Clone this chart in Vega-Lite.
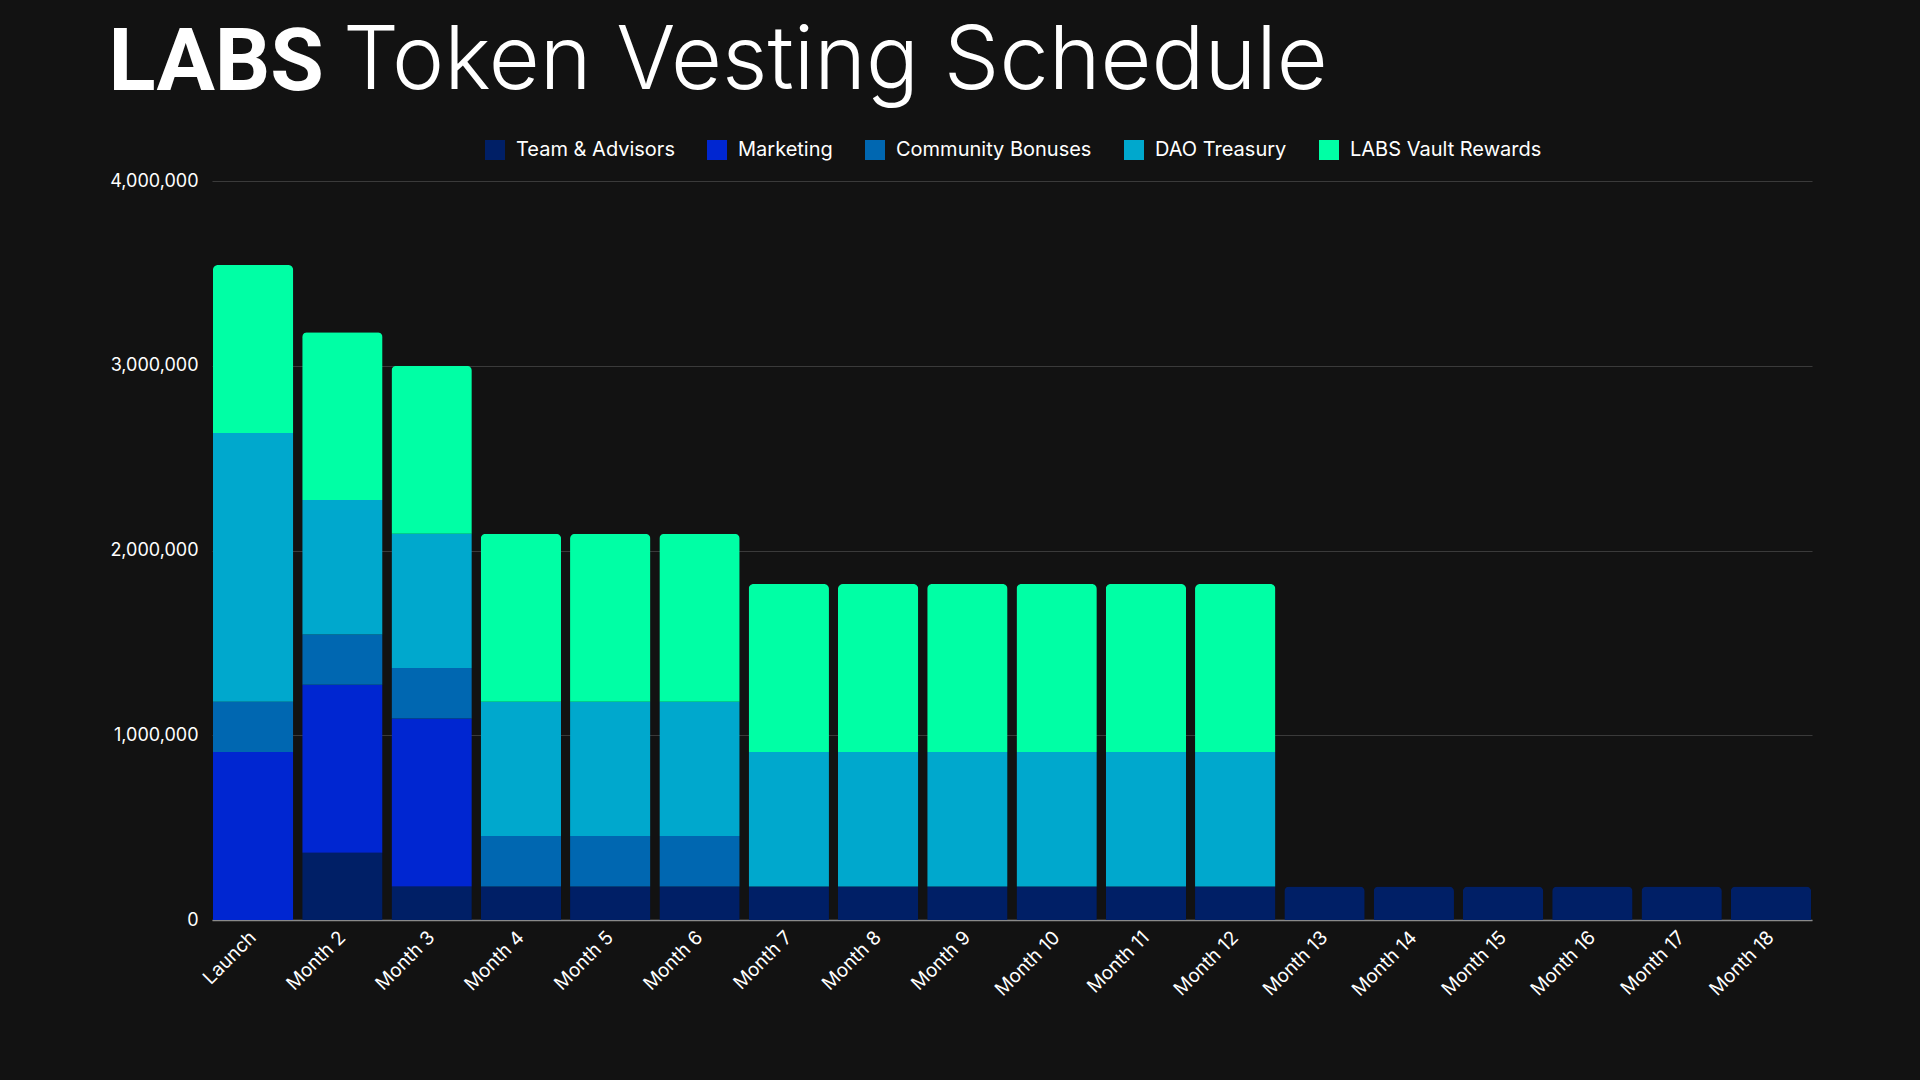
{
  "$schema": "https://vega.github.io/schema/vega-lite/v6.json",
  "width": 1600,
  "height": 739,
  "autosize": {"type": "none"},
  "padding": {"left": 212, "top": 181, "right": 108, "bottom": 160},
  "background": "#121212",
  "title": {
    "text": "Token Vesting Schedule",
    "anchor": "start",
    "frame": "group",
    "dx": 131,
    "fontSize": 88,
    "fontWeight": 300,
    "font": "Inter",
    "color": "#ffffff",
    "baseline": "alphabetic",
    "offset": -158
  },
  "data": {
    "values": [
      {"period": "Launch", "allocation": "Marketing", "k": 2, "tokens": 909091},
      {"period": "Launch", "allocation": "Community Bonuses", "k": 3, "tokens": 272727},
      {"period": "Launch", "allocation": "DAO Treasury", "k": 4, "tokens": 1454545},
      {"period": "Launch", "allocation": "LABS Vault Rewards", "k": 5, "tokens": 909091},
      {"period": "Month 2", "allocation": "Team & Advisors", "k": 1, "tokens": 363636},
      {"period": "Month 2", "allocation": "Marketing", "k": 2, "tokens": 909091},
      {"period": "Month 2", "allocation": "Community Bonuses", "k": 3, "tokens": 272727},
      {"period": "Month 2", "allocation": "DAO Treasury", "k": 4, "tokens": 727273},
      {"period": "Month 2", "allocation": "LABS Vault Rewards", "k": 5, "tokens": 909091},
      {"period": "Month 3", "allocation": "Team & Advisors", "k": 1, "tokens": 181818},
      {"period": "Month 3", "allocation": "Marketing", "k": 2, "tokens": 909091},
      {"period": "Month 3", "allocation": "Community Bonuses", "k": 3, "tokens": 272727},
      {"period": "Month 3", "allocation": "DAO Treasury", "k": 4, "tokens": 727273},
      {"period": "Month 3", "allocation": "LABS Vault Rewards", "k": 5, "tokens": 909091},
      {"period": "Month 4", "allocation": "Team & Advisors", "k": 1, "tokens": 181818},
      {"period": "Month 4", "allocation": "Community Bonuses", "k": 3, "tokens": 272727},
      {"period": "Month 4", "allocation": "DAO Treasury", "k": 4, "tokens": 727273},
      {"period": "Month 4", "allocation": "LABS Vault Rewards", "k": 5, "tokens": 909091},
      {"period": "Month 5", "allocation": "Team & Advisors", "k": 1, "tokens": 181818},
      {"period": "Month 5", "allocation": "Community Bonuses", "k": 3, "tokens": 272727},
      {"period": "Month 5", "allocation": "DAO Treasury", "k": 4, "tokens": 727273},
      {"period": "Month 5", "allocation": "LABS Vault Rewards", "k": 5, "tokens": 909091},
      {"period": "Month 6", "allocation": "Team & Advisors", "k": 1, "tokens": 181818},
      {"period": "Month 6", "allocation": "Community Bonuses", "k": 3, "tokens": 272727},
      {"period": "Month 6", "allocation": "DAO Treasury", "k": 4, "tokens": 727273},
      {"period": "Month 6", "allocation": "LABS Vault Rewards", "k": 5, "tokens": 909091},
      {"period": "Month 7", "allocation": "Team & Advisors", "k": 1, "tokens": 181818},
      {"period": "Month 7", "allocation": "DAO Treasury", "k": 4, "tokens": 727273},
      {"period": "Month 7", "allocation": "LABS Vault Rewards", "k": 5, "tokens": 909091},
      {"period": "Month 8", "allocation": "Team & Advisors", "k": 1, "tokens": 181818},
      {"period": "Month 8", "allocation": "DAO Treasury", "k": 4, "tokens": 727273},
      {"period": "Month 8", "allocation": "LABS Vault Rewards", "k": 5, "tokens": 909091},
      {"period": "Month 9", "allocation": "Team & Advisors", "k": 1, "tokens": 181818},
      {"period": "Month 9", "allocation": "DAO Treasury", "k": 4, "tokens": 727273},
      {"period": "Month 9", "allocation": "LABS Vault Rewards", "k": 5, "tokens": 909091},
      {"period": "Month 10", "allocation": "Team & Advisors", "k": 1, "tokens": 181818},
      {"period": "Month 10", "allocation": "DAO Treasury", "k": 4, "tokens": 727273},
      {"period": "Month 10", "allocation": "LABS Vault Rewards", "k": 5, "tokens": 909091},
      {"period": "Month 11", "allocation": "Team & Advisors", "k": 1, "tokens": 181818},
      {"period": "Month 11", "allocation": "DAO Treasury", "k": 4, "tokens": 727273},
      {"period": "Month 11", "allocation": "LABS Vault Rewards", "k": 5, "tokens": 909091},
      {"period": "Month 12", "allocation": "Team & Advisors", "k": 1, "tokens": 181818},
      {"period": "Month 12", "allocation": "DAO Treasury", "k": 4, "tokens": 727273},
      {"period": "Month 12", "allocation": "LABS Vault Rewards", "k": 5, "tokens": 909091},
      {"period": "Month 13", "allocation": "Team & Advisors", "k": 1, "tokens": 181818},
      {"period": "Month 14", "allocation": "Team & Advisors", "k": 1, "tokens": 181818},
      {"period": "Month 15", "allocation": "Team & Advisors", "k": 1, "tokens": 181818},
      {"period": "Month 16", "allocation": "Team & Advisors", "k": 1, "tokens": 181818},
      {"period": "Month 17", "allocation": "Team & Advisors", "k": 1, "tokens": 181818},
      {"period": "Month 18", "allocation": "Team & Advisors", "k": 1, "tokens": 181818}
    ]
  },
  "mark": {"type": "bar", "cornerRadiusTopLeft": 5, "cornerRadiusTopRight": 5},
  "encoding": {
    "x": {
      "field": "period",
      "type": "nominal",
      "sort": null,
      "scale": {"paddingInner": 0.1, "paddingOuter": 0.01},
      "axis": {
        "title": null,
        "labelAngle": -45,
        "labelAlign": "right",
        "labelBaseline": "middle",
        "labelFont": "Inter",
        "labelFontSize": 19,
        "labelColor": "#ffffff",
        "labelPadding": 14,
        "ticks": false,
        "domain": true,
        "domainColor": "#8a8a8a",
        "domainWidth": 1.5,
        "grid": false
      }
    },
    "y": {
      "field": "tokens",
      "type": "quantitative",
      "stack": "zero",
      "scale": {"domain": [0, 4000000]},
      "axis": {
        "title": "LABS",
        "titleAngle": 0,
        "titleX": -104,
        "titleY": -92,
        "titleAlign": "left",
        "titleBaseline": "alphabetic",
        "titleFont": "Roboto",
        "titleFontSize": 87,
        "titleFontWeight": 700,
        "titleColor": "#ffffff",
        "values": [0, 1000000, 2000000, 3000000, 4000000],
        "format": ",d",
        "labelFont": "Inter",
        "labelFontSize": 18,
        "labelColor": "#ffffff",
        "labelPadding": 14,
        "ticks": false,
        "domain": false,
        "grid": true,
        "gridColor": "#3a3a3a",
        "gridWidth": 1
      }
    },
    "color": {
      "field": "allocation",
      "type": "nominal",
      "scale": {
        "domain": ["Team & Advisors", "Marketing", "Community Bonuses", "DAO Treasury", "LABS Vault Rewards"],
        "range": ["#001F66", "#0026D1", "#0067B1", "#00A8CD", "#00FFA5"]
      },
      "legend": {
        "title": null,
        "orient": "none",
        "direction": "horizontal",
        "legendX": 273,
        "legendY": -41,
        "symbolType": "square",
        "symbolSize": 400,
        "symbolStrokeWidth": 0,
        "labelFont": "Inter",
        "labelFontSize": 20,
        "labelLimit": 400,
        "labelColor": "#ffffff",
        "labelOffset": 11,
        "columnPadding": 32
      }
    },
    "order": {"field": "k", "type": "quantitative", "sort": "ascending"}
  },
  "config": {"view": {"stroke": null}}
}
